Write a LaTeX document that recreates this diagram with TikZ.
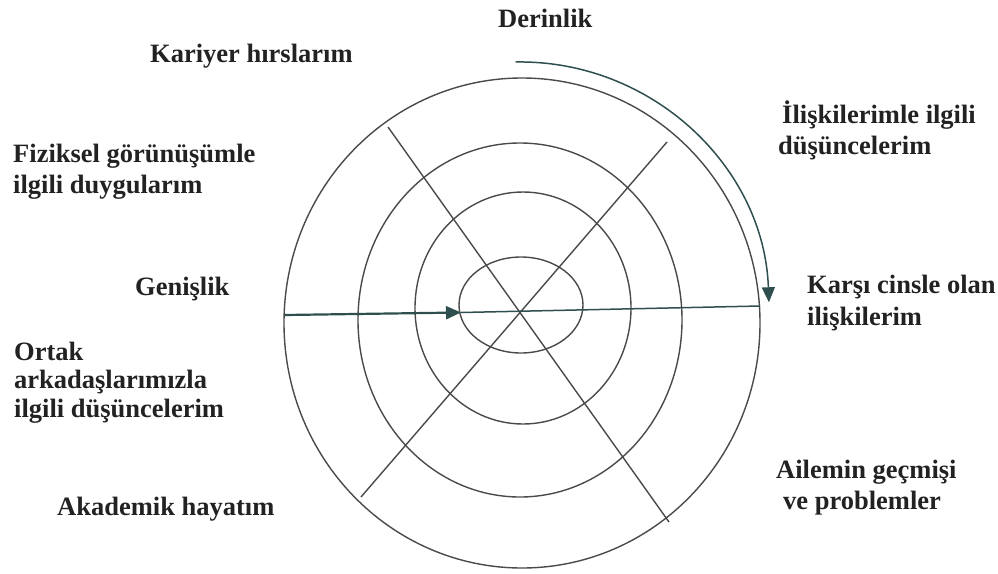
\documentclass[tikz,border=0pt]{standalone}
\usepackage{fontspec}
\setmainfont{Liberation Serif}
\usetikzlibrary{arrows.meta}
\definecolor{ringcol}{HTML}{4A4A4A}
\definecolor{tealcol}{HTML}{2F4F4F}
\definecolor{txtcol}{HTML}{222222}
\tikzset{
  ring/.style={draw=ringcol, line width=1.4pt},
  spoke/.style={draw=ringcol, line width=1.4pt},
  axis/.style={draw=tealcol, line width=1.5pt},
  lbl/.style={anchor=base west, inner sep=0pt, text=txtcol, font=\bfseries\fontsize{26.5}{30}\selectfont, align=left},
  tip/.style={-{Triangle[length=15pt,width=13pt]}}
}
\begin{document}
\begin{tikzpicture}[x=1pt,y=-1pt]
\useasboundingbox (0,0) rectangle (998,573);
% rings
\draw[ring] (522,323) ellipse [x radius=238, y radius=245];
\draw[ring] (520,320) ellipse [x radius=162, y radius=177];
\draw[ring] (523,308) ellipse [x radius=108, y radius=116];
\draw[ring] (521,305) ellipse [x radius=62, y radius=48];
% diagonals
\coordinate (d1a) at (388,127);
\coordinate (d1b) at (669,522);
\coordinate (d2a) at (667,142);
\coordinate (d2b) at (361,497);
\draw[spoke] (d1a) -- (d1b);
\draw[spoke] (d2a) -- (d2b);
% horizontal axis with arrow
\coordinate (hl) at (285,315);
\coordinate (ht) at (461,312.5);
\coordinate (hr) at (760,306);
\draw[axis, line width=2.2pt, tip] (hl) -- (ht);
\draw[axis] (ht) -- (hr);
% depth arc
\coordinate (arcstart) at (515.7,62);
\draw[axis, tip] (arcstart) arc [start angle=-91, end angle=-2, radius=249];
% labels
\node[lbl] (derin) at (498,27) {Derinlik};
\node[lbl] (kariyer) at (150,62) {Kariyer hırslarım};
\node[lbl] (fiz1) at (13,162) {Fiziksel görünüşümle};
\node[lbl] (fiz2) at (13,193) {ilgili duygularım};
\node[lbl] (genis) at (135,295) {Genişlik};
\node[lbl] (ort1) at (14,360) {Ortak};
\node[lbl] (ort2) at (14,388) {arkadaşlarımızla};
\node[lbl] (ort3) at (14,417) {ilgili düşüncelerim};
\node[lbl] (akad) at (57,515) {Akademik hayatım};
\node[lbl] (ilis1) at (782,123) {İlişkilerimle ilgili};
\node[lbl] (ilis2) at (778,154) {düşüncelerim};
\node[lbl] (kars1) at (807,293) {Karşı cinsle olan};
\node[lbl] (kars2) at (807,325) {ilişkilerim};
\node[lbl] (aile1) at (776,478) {Ailemin geçmişi};
\node[lbl] (aile2) at (783,509) {ve problemler};
\end{tikzpicture}
\end{document}
